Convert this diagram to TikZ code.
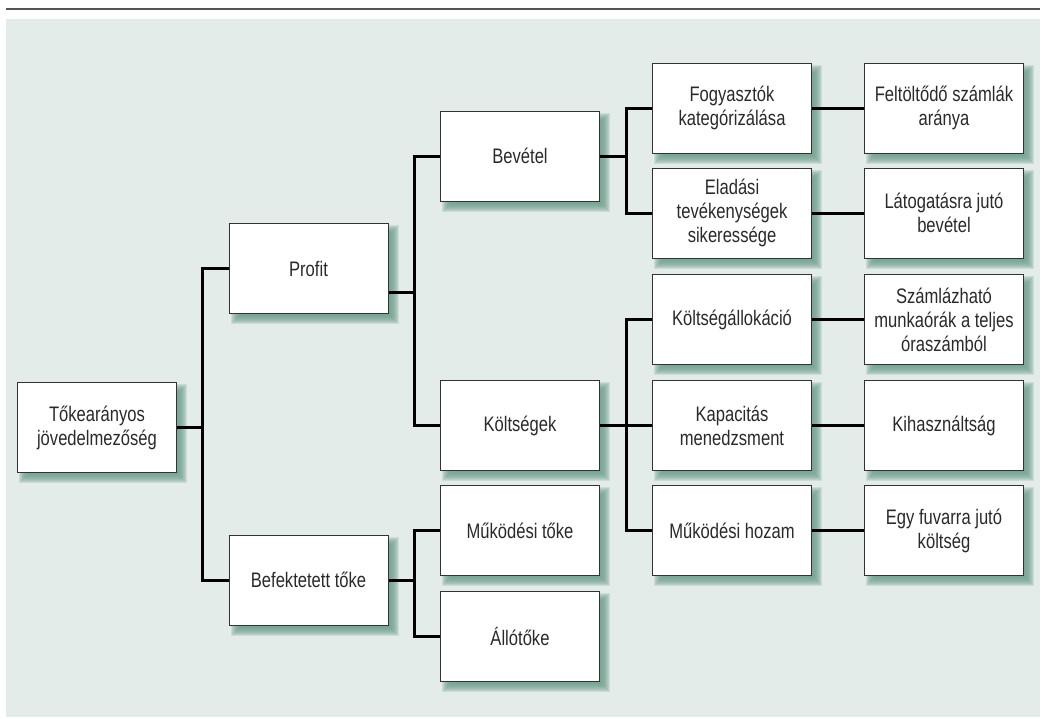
\documentclass[tikz,border=0pt]{standalone}
\usepackage{fontspec}
\setmainfont[FakeStretch=0.79]{Liberation Sans}
\definecolor{bg}{HTML}{E3ECE9}
\definecolor{boxline}{HTML}{333333}
\definecolor{txt}{HTML}{2A2A2A}
\definecolor{shadowc}{HTML}{6F9E8C}
\definecolor{rule}{HTML}{555555}
\pgfdeclarelayer{bgl}
\pgfdeclarelayer{shl}
\pgfsetlayers{bgl,shl,main}
\begin{document}
\begin{tikzpicture}[x=1pt,y=-1pt,
  box/.style={draw=boxline, line width=1pt, fill=white, minimum width=159pt,
    minimum height=90pt, inner sep=2pt, align=center,
    font=\fontsize{21}{24}\selectfont, text=txt},
  shadowlayer/.style={fill=shadowc, fill opacity=0.2},
  conn/.style={line width=3pt, black}]
\useasboundingbox (0,0) rectangle (1040,717);
\begin{pgfonlayer}{bgl}
\fill[bg] (6,19) rectangle (1040,717);
\draw[rule, line width=2pt] (6,9) -- (1040,9);
\end{pgfonlayer}

\node[box] (tok) at (97,427.5) {Tőkearányos\\jövedelmezőség};
\node[box] (profit) at (308.5,268.5) {Profit};
\node[box] (bef) at (308.5,580) {Befektetett tőke};
\node[box] (bev) at (520,156) {Bevétel};
\node[box] (kolt) at (520,425.5) {Költségek};
\node[box] (mtoke) at (520,530.5) {Működési tőke};
\node[box] (allo) at (520,636.5) {Állótőke};
\node[box] (fogy) at (732,108) {Fogyasztók\\kategórizálása};
\node[box] (elad) at (732,213) {Eladási\\tevékenységek\\sikeressége};
\node[box] (kalloc) at (732,319.5) {Költségállokáció};
\node[box] (kapac) at (732,425.5) {Kapacitás\\menedzsment};
\node[box] (mhoz) at (732,530.5) {Működési hozam};
\node[box] (felt) at (944,108) {Feltöltődő számlák\\aránya};
\node[box] (lato) at (944,213) {Látogatásra jutó\\bevétel};
\node[box] (szaml) at (944,319.5) {Számlázható\\munkaórák a teljes\\óraszámból};
\node[box] (kihasz) at (944,425.5) {Kihasználtság};
\node[box] (egy) at (944,530.5) {Egy fuvarra jutó\\költség};

\begin{pgfonlayer}{shl}
\foreach \n in {tok,profit,bef,bev,kolt,mtoke,allo,fogy,elad,kalloc,kapac,mhoz,felt,lato,szaml,kihasz,egy}
  \foreach \e in {-4,-3,...,4}
    \fill[shadowlayer] ([shift={(6-\e,6-\e)}]\n.north west) rectangle ([shift={(6+\e,6+\e)}]\n.south east);
\end{pgfonlayer}

% level 1
\draw[conn] (tok.east) -- ++(27,0);
\draw[conn] (profit.west) -- ++(-26,0) |- (bef.west);
% profit
\draw[conn] ([yshift=-23.5pt]profit.east) -- ++(27,0);
\draw[conn] (bev.west) -- ++(-26,0) |- (kolt.west);
% befektetett
\draw[conn] (bef.east) -- ++(27,0);
\draw[conn] (mtoke.west) -- ++(-26,0) |- (allo.west);
% bevetel
\draw[conn] (bev.east) -- ++(27,0);
\draw[conn] (fogy.west) -- ++(-26,0) |- (elad.west);
% koltsegek
\draw[conn] (kolt.east) -- (kapac.west);
\draw[conn] (kalloc.west) -- ++(-26,0) |- (mhoz.west);
% leaves
\draw[conn] (fogy.east) -- (felt.west);
\draw[conn] (elad.east) -- (lato.west);
\draw[conn] (kalloc.east) -- (szaml.west);
\draw[conn] (kapac.east) -- (kihasz.west);
\draw[conn] (mhoz.east) -- (egy.west);
\end{tikzpicture}
\end{document}
